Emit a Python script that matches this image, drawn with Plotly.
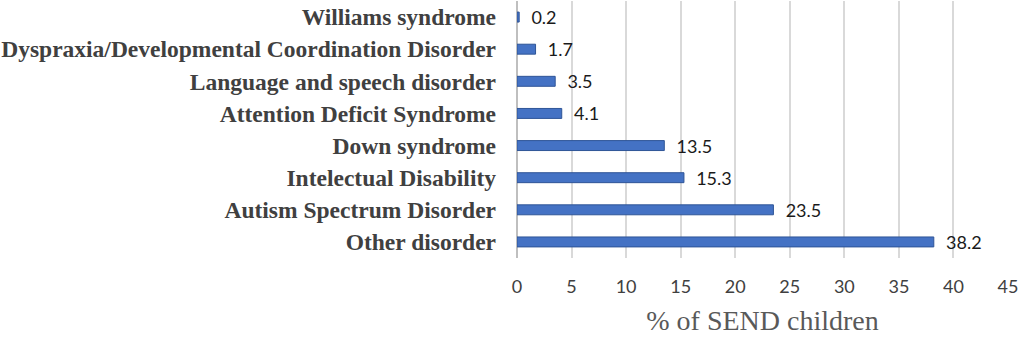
import plotly.graph_objects as go

categories = [
    "Other disorder",
    "Autism Spectrum Disorder",
    "Intelectual Disability",
    "Down syndrome",
    "Attention Deficit Syndrome",
    "Language and speech disorder",
    "Dyspraxia/Developmental Coordination Disorder",
    "Williams syndrome",
]
values = [38.2, 23.5, 15.3, 13.5, 4.1, 3.5, 1.7, 0.2]
x_ticks = [0, 5, 10, 15, 20, 25, 30, 35, 40, 45]

fig = go.Figure(
    go.Bar(
        x=values,
        y=categories,
        orientation="h",
        width=0.31,
        marker=dict(color="#4472C4", line=dict(color="#2F5597", width=1)),
        text=[f"{v}" for v in values],
        texttemplate="  %{text}",
        textposition="outside",
        constraintext="none",
        cliponaxis=False,
        hoverinfo="skip",
        textfont=dict(family="Lato, Open Sans, sans-serif", size=18, color="#1a1a1a"),
    )
)

fig.update_layout(
    width=1021,
    height=342,
    margin=dict(l=517, r=13, t=1, b=84),
    paper_bgcolor="white",
    plot_bgcolor="white",
    showlegend=False,
    xaxis=dict(
        range=[0, 45],
        tickvals=x_ticks,
        automargin=False,
        showgrid=True,
        gridcolor="#d9d9d9",
        gridwidth=1.5,
        zeroline=True,
        zerolinecolor="#bfbfbf",
        zerolinewidth=1.5,
        showline=False,
        ticks="",
        ticklabelstandoff=16,
        tickfont=dict(family="Lato, Open Sans, sans-serif", size=18, color="#404040"),
        title=dict(
            text="% of SEND children",
            font=dict(family="Liberation Serif, Times New Roman, serif", size=28, color="#595959"),
            standoff=14,
        ),
    ),
    yaxis=dict(
        showgrid=False,
        automargin=False,
        ticks="",
        ticklabelstandoff=20,
        tickfont=dict(family="Liberation Serif, Times New Roman, serif", size=23.5, color="#404040", weight="bold"),
    ),
)

fig.write_html(
    "out.html",
    config={"displayModeBar": False},
    post_script="document.body.style.margin='0';",
)
